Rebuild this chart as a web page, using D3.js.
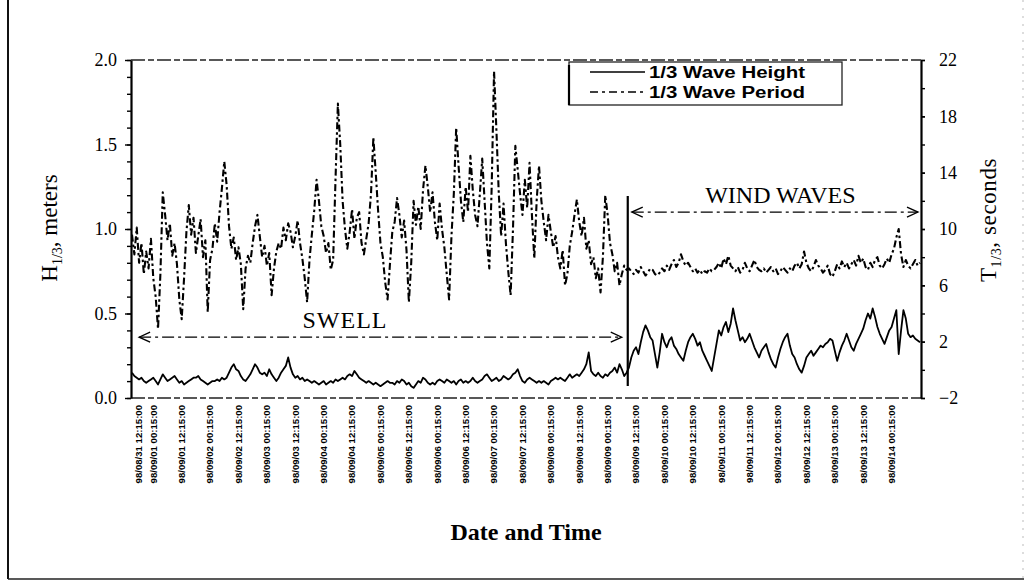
<!DOCTYPE html>
<html>
<head>
<meta charset="utf-8">
<script src="https://cdn.jsdelivr.net/npm/d3@7"></script>
<style>
  html, body { margin: 0; padding: 0; background: #fff; }
  svg { display: block; }
</style>
</head>
<body>
<svg id="chart" width="1031" height="585"></svg>
<script>
// Hourly 1/3 wave height (m), one record per hour from 98/08/31 to 98/09/14
const waveHeight = [
  0.15,0.13,0.12,0.11,0.12,0.10,0.09,0.10,0.11,0.12,0.10,0.08,
  0.11,0.14,0.12,0.10,0.11,0.12,0.13,0.11,0.09,0.10,0.08,0.09,
  0.10,0.11,0.12,0.12,0.13,0.11,0.10,0.09,0.08,0.09,0.10,0.10,
  0.11,0.10,0.12,0.11,0.12,0.15,0.18,0.20,0.17,0.16,0.13,0.11,
  0.10,0.12,0.14,0.17,0.20,0.18,0.15,0.14,0.15,0.13,0.17,0.14,
  0.12,0.10,0.12,0.15,0.17,0.19,0.24,0.18,0.14,0.12,0.13,0.11,
  0.12,0.10,0.11,0.10,0.09,0.10,0.09,0.08,0.09,0.10,0.08,0.09,
  0.10,0.09,0.11,0.10,0.11,0.12,0.11,0.13,0.14,0.13,0.16,0.14,
  0.12,0.11,0.10,0.09,0.10,0.09,0.08,0.09,0.08,0.07,0.08,0.09,
  0.10,0.09,0.09,0.08,0.10,0.09,0.11,0.10,0.08,0.09,0.07,0.06,
  0.08,0.10,0.09,0.12,0.11,0.09,0.08,0.09,0.08,0.10,0.11,0.10,
  0.09,0.11,0.10,0.09,0.10,0.08,0.10,0.11,0.09,0.10,0.09,0.10,
  0.12,0.10,0.09,0.10,0.11,0.13,0.14,0.12,0.10,0.11,0.12,0.10,
  0.11,0.13,0.12,0.11,0.12,0.14,0.15,0.17,0.13,0.10,0.09,0.11,
  0.12,0.11,0.10,0.09,0.10,0.09,0.10,0.09,0.08,0.10,0.11,0.12,
  0.11,0.12,0.11,0.10,0.12,0.14,0.12,0.13,0.14,0.13,0.15,0.17,
  0.20,0.27,0.16,0.14,0.13,0.15,0.13,0.12,0.14,0.13,0.15,0.16,
  0.18,0.15,0.20,0.17,0.13,0.15,
  0.18,0.24,0.28,0.30,0.26,0.33,0.39,0.43,0.40,0.36,0.34,0.26,
  0.18,0.27,0.38,0.33,0.30,0.34,0.36,0.31,0.29,0.26,0.24,0.22,
  0.28,0.33,0.36,0.38,0.35,0.31,0.33,0.28,0.25,0.22,0.19,0.16,
  0.24,0.32,0.40,0.37,0.42,0.45,0.39,0.44,0.53,0.46,0.40,0.34,
  0.36,0.33,0.35,0.38,0.34,0.30,0.27,0.24,0.28,0.30,0.32,0.27,
  0.23,0.20,0.18,0.24,0.29,0.33,0.36,0.38,0.31,0.26,0.24,0.20,
  0.17,0.15,0.19,0.24,0.26,0.28,0.25,0.27,0.29,0.31,0.30,0.32,
  0.33,0.35,0.34,0.28,0.22,0.27,0.31,0.34,0.38,0.34,0.30,0.28,
  0.32,0.35,0.38,0.41,0.46,0.50,0.47,0.53,0.48,0.42,0.38,0.35,
  0.32,0.36,0.40,0.42,0.47,0.52,0.26,0.40,0.52,0.47,0.38,0.36,
  0.37,0.35,0.34,0.33
];

// Hourly 1/3 wave period (s), same records
const wavePeriod = [
  9.6,8.2,10.1,7.6,9.0,6.8,8.4,7.2,9.3,6.5,5.2,2.9,
  6.8,12.6,11.0,9.2,10.4,8.1,9.0,7.5,5.0,3.6,6.5,9.8,
  11.7,9.6,10.8,8.3,9.5,10.7,8.0,9.2,4.1,7.8,8.6,10.4,
  9.1,11.2,12.9,14.8,13.1,10.2,8.6,9.4,7.8,8.7,7.5,4.3,
  7.2,8.1,7.6,9.0,10.2,11.0,9.5,8.0,8.8,7.4,8.3,5.3,
  7.2,8.4,9.0,8.6,10.1,9.2,10.4,9.8,8.7,9.5,10.6,9.0,
  7.9,6.5,4.8,7.8,9.6,11.3,13.5,12.0,10.2,9.5,8.3,9.0,
  7.1,7.8,13.5,18.9,16.0,12.0,10.0,8.6,9.8,11.4,9.3,10.8,
  11.2,9.0,8.2,9.3,10.4,12.5,16.5,14.0,11.3,9.0,8.0,6.2,
  5.0,7.5,9.8,10.5,12.2,11.0,9.4,10.6,8.5,4.8,7.6,12.0,
  10.3,11.6,10.0,12.8,14.5,13.0,11.2,12.6,10.5,9.2,11.8,10.0,
  8.7,6.8,5.0,9.5,12.5,17.2,14.5,12.0,10.5,13.0,11.2,15.2,
  12.8,11.0,10.2,12.5,15.0,12.0,9.0,7.2,13.0,21.2,17.0,12.5,
  9.5,11.8,9.0,7.0,5.3,10.0,15.9,14.2,12.5,11.0,13.5,11.5,
  14.7,11.0,7.9,12.0,14.5,12.0,10.5,9.2,11.0,9.8,8.7,9.5,
  8.0,7.2,8.5,6.0,6.8,8.8,9.8,11.0,12.1,10.5,9.5,10.8,
  8.6,9.2,7.5,8.0,6.5,7.2,5.5,8.0,12.4,11.0,9.0,8.2,
  7.0,7.6,6.0,6.8,7.4,7.1,
  7.2,7.0,6.8,7.1,6.9,7.3,7.0,6.7,6.9,7.2,7.1,6.8,
  6.7,6.9,7.2,7.0,7.4,7.1,7.5,7.8,7.3,7.6,8.2,7.7,
  7.4,7.6,7.3,7.0,7.2,6.9,7.1,6.8,7.0,6.9,7.2,7.0,
  7.1,7.3,7.6,7.2,7.9,7.5,8.1,7.4,7.2,7.0,7.3,6.9,
  7.1,7.6,7.2,7.0,7.4,7.8,7.3,7.1,7.0,7.2,6.9,7.1,
  7.3,7.0,7.2,6.8,7.0,7.3,7.1,6.9,7.2,7.0,7.4,7.6,
  7.2,7.5,8.4,7.6,7.2,7.0,7.3,7.8,7.4,7.2,6.9,7.1,
  7.4,6.8,6.6,7.0,7.5,7.2,7.7,7.3,7.6,7.2,7.5,7.8,
  7.4,8.1,7.6,7.9,7.3,7.1,7.6,7.3,7.8,8.0,7.4,7.2,
  7.5,7.9,7.6,8.2,8.6,9.4,10.0,8.2,7.3,7.8,7.4,7.2,
  7.5,7.8,7.4,7.6
];

// Record index carrying each date label, and the label text
const tickIndex = [3, 9, 21, 33, 45, 57, 69, 81, 93, 105, 117, 129, 141, 153,
  165, 177, 189, 201, 213, 225, 237, 249, 261, 273, 285, 297, 309, 321];
const tickLabels = [
  "98/08/31 12:15:00","98/09/01 00:15:00","98/09/01 12:15:00","98/09/02 00:15:00",
  "98/09/02 12:15:00","98/09/03 00:15:00","98/09/03 12:15:00","98/09/04 00:15:00",
  "98/09/04 12:15:00","98/09/05 00:15:00","98/09/05 12:15:00","98/09/06 00:15:00",
  "98/09/06 12:15:00","98/09/07 00:15:00","98/09/07 12:15:00","98/09/08 00:15:00",
  "98/09/08 12:15:00","98/09/09 00:15:00","98/09/09 12:15:00","98/09/10 00:15:00",
  "98/09/10 12:15:00","98/09/11 00:15:00","98/09/11 12:15:00","98/09/12 00:15:00",
  "98/09/12 12:15:00","98/09/13 00:15:00","98/09/13 12:15:00","98/09/14 00:15:00"
];

const heightTicks = [0.0, 0.5, 1.0, 1.5, 2.0];
const periodTicks = [-2, 2, 6, 10, 14, 18, 22];
const seriesNames = ["1/3 Wave Height", "1/3 Wave Period"];
// Record index where swell gives way to wind waves
const regimeSplit = 209.5;

const svg = d3.select("#chart");
const plot = { left: 131, right: 921, top: 60, bottom: 398 };

const serif = "'Liberation Serif', 'Times New Roman', serif";
const sans = "'Liberation Sans', Arial, sans-serif";

const x = d3.scaleLinear().domain([0, waveHeight.length - 1]).range([plot.left + 1, plot.right - 1]);
const yH = d3.scaleLinear().domain([0, 2]).range([plot.bottom, plot.top]);
const yT = d3.scaleLinear().domain([-2, 22]).range([plot.bottom, plot.top]);

// Outer figure frame
svg.append("line").attr("x1", 8).attr("x2", 8).attr("y1", 0).attr("y2", 579)
  .attr("stroke", "#111").attr("stroke-width", 2);
svg.append("line").attr("x1", 8).attr("x2", 1024).attr("y1", 579).attr("y2", 579)
  .attr("stroke", "#222").attr("stroke-width", 1.4);
svg.append("line").attr("x1", 1023).attr("x2", 1023).attr("y1", 0).attr("y2", 579)
  .attr("stroke", "#bbb").attr("stroke-width", 1).attr("stroke-dasharray", "2,6");

// Top and bottom plot border
[plot.top, plot.bottom].forEach(y => {
  svg.append("line").attr("x1", plot.left).attr("x2", plot.right).attr("y1", y).attr("y2", y)
    .attr("stroke", "#222").attr("stroke-width", 1.3).attr("stroke-dasharray", "14,3,6,3");
});

// Series lines
const lineH = d3.line().x((d, i) => x(i)).y(d => yH(d));
const lineT = d3.line().x((d, i) => x(i)).y(d => yT(d));

svg.append("path").datum(wavePeriod).attr("d", lineT)
  .attr("fill", "none").attr("stroke", "#000").attr("stroke-width", 2.1)
  .attr("stroke-dasharray", "7,3,2.5,3").attr("stroke-linejoin", "round");
svg.append("path").datum(waveHeight).attr("d", lineH)
  .attr("fill", "none").attr("stroke", "#000").attr("stroke-width", 1.8)
  .attr("stroke-linejoin", "round");

// Left axis (height)
const leftMinor = d3.range(0, 2.0001, 0.1);
const axL = svg.append("g").attr("transform", `translate(${plot.left},0)`)
  .call(d3.axisLeft(yH).tickValues(leftMinor).tickSize(4).tickSizeOuter(0).tickFormat(""));
axL.select(".domain").attr("stroke-width", 2.2);
axL.selectAll(".tick line").attr("stroke-width", 1.4);
svg.append("g").attr("transform", `translate(${plot.left},0)`)
  .call(d3.axisLeft(yH).tickValues(heightTicks).tickSize(6).tickPadding(8).tickFormat(d3.format(".1f")))
  .call(g => g.select(".domain").remove())
  .call(g => g.selectAll(".tick line").attr("stroke-width", 1.4))
  .call(g => g.selectAll("text").attr("font-family", serif).attr("font-size", 18).attr("fill", "#000"));

// Right axis (period)
const rightMinor = d3.range(-2, 22.001, 2);
const axR = svg.append("g").attr("transform", `translate(${plot.right},0)`)
  .call(d3.axisRight(yT).tickValues(rightMinor).tickSize(4).tickSizeOuter(0).tickFormat(""));
axR.select(".domain").attr("stroke-width", 2.2);
axR.selectAll(".tick line").attr("stroke-width", 1.4);
svg.append("g").attr("transform", `translate(${plot.right},0)`)
  .call(d3.axisRight(yT).tickValues(periodTicks).tickSize(4).tickPadding(14).tickFormat(d3.format("d")))
  .call(g => g.select(".domain").remove())
  .call(g => g.selectAll(".tick line").attr("stroke-width", 1.4))
  .call(g => g.selectAll("text").attr("font-family", serif).attr("font-size", 18).attr("fill", "#000"));

// Date labels, rotated
svg.append("g").selectAll("text").data(tickIndex).join("text")
  .attr("transform", d => `translate(${x(d)},${plot.bottom + 7}) rotate(-90)`)
  .attr("text-anchor", "end").attr("dy", "0.35em")
  .attr("font-family", sans).attr("font-weight", "bold").attr("font-size", 9.6)
  .attr("fill", "#000")
  .text((d, i) => tickLabels[i]);

// Axis titles
const tl = svg.append("text").attr("transform", "translate(57,228) rotate(-90)")
  .attr("text-anchor", "middle").attr("font-family", serif).attr("font-size", 23);
tl.append("tspan").text("H");
tl.append("tspan").attr("font-size", 14).attr("dy", 5).text("1/3");
tl.append("tspan").attr("dy", -5).text(", meters");

const tr = svg.append("text").attr("transform", "translate(996,220) rotate(-90)")
  .attr("text-anchor", "middle").attr("font-family", serif).attr("font-size", 23)
  .attr("letter-spacing", 0.6);
tr.append("tspan").text("T");
tr.append("tspan").attr("font-size", 14).attr("dy", 5).text("1/3");
tr.append("tspan").attr("dy", -5).text(", seconds");

svg.append("text").attr("x", 526).attr("y", 540).attr("text-anchor", "middle")
  .attr("font-family", serif).attr("font-weight", "bold").attr("font-size", 24)
  .text("Date and Time");

// Regime annotations
const xs = x(regimeSplit);
svg.append("line").attr("x1", xs).attr("x2", xs).attr("y1", 196).attr("y2", 386)
  .attr("stroke", "#000").attr("stroke-width", 2.2);

function arrowHead(px, py, dir) {
  svg.append("path")
    .attr("d", `M${px + dir * 11},${py - 5} L${px},${py} L${px + dir * 11},${py + 5}`)
    .attr("fill", "none").attr("stroke", "#000").attr("stroke-width", 1.3);
}
const ySwell = yH(0.36), yWind = yT(11.2);
svg.append("line").attr("x1", x(3)).attr("x2", xs - 6).attr("y1", ySwell).attr("y2", ySwell)
  .attr("stroke", "#000").attr("stroke-width", 1.2).attr("stroke-dasharray", "12,4,3,4");
arrowHead(x(3), ySwell, 1);
arrowHead(xs - 6, ySwell, -1);
svg.append("line").attr("x1", xs + 4).attr("x2", plot.right - 3).attr("y1", yWind).attr("y2", yWind)
  .attr("stroke", "#000").attr("stroke-width", 1.2).attr("stroke-dasharray", "12,4,3,4");
arrowHead(xs + 4, yWind, 1);
arrowHead(plot.right - 3, yWind, -1);

svg.append("text").attr("x", x(90)).attr("y", ySwell - 9).attr("text-anchor", "middle")
  .attr("font-family", serif).attr("font-size", 24).attr("letter-spacing", 1).text("SWELL");
svg.append("text").attr("x", x(274)).attr("y", yWind - 9).attr("text-anchor", "middle")
  .attr("font-family", serif).attr("font-size", 24).text("WIND WAVES");

// Legend
const lg = svg.append("g");
lg.append("rect").attr("x", 569).attr("y", 62).attr("width", 273).attr("height", 43)
  .attr("fill", "#fff").attr("stroke", "#222").attr("stroke-width", 1.3);
lg.append("line").attr("x1", 569).attr("x2", 569).attr("y1", 65).attr("y2", 105)
  .attr("stroke", "#000").attr("stroke-width", 2.2);
const legendDash = [null, "8,4,3,4"];
seriesNames.forEach((name, i) => {
  const ly = 72 + i * 20;
  lg.append("line").attr("x1", 590).attr("x2", 645).attr("y1", ly).attr("y2", ly)
    .attr("stroke", "#000").attr("stroke-width", 1.6)
    .attr("stroke-dasharray", legendDash[i]);
  lg.append("text").attr("x", 649).attr("y", ly).attr("dy", "0.35em")
    .attr("font-family", sans).attr("font-size", 16).attr("font-weight", "bold")
    .attr("textLength", 156).attr("lengthAdjust", "spacingAndGlyphs")
    .text(name);
});
</script>
</body>
</html>
